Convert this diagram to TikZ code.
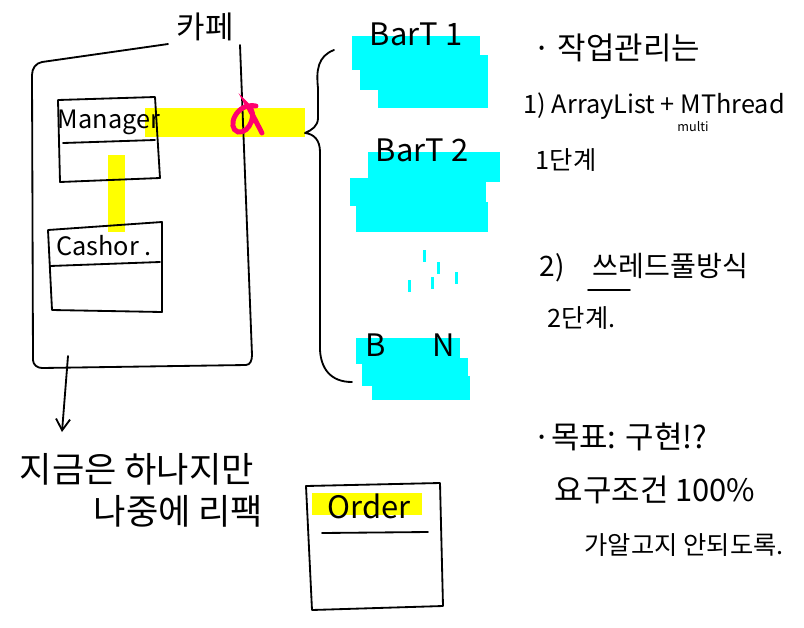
\documentclass[tikz,border=0pt]{standalone}
\usepackage{fontspec}
\setmainfont{Noto Sans CJK KR}
\usepackage{tikz}
\usetikzlibrary{arrows.meta}

\definecolor{marker}{RGB}{255,255,0}
\definecolor{barcyan}{RGB}{0,255,255}
\definecolor{pink}{RGB}{255,0,110}

\tikzset{
  pen/.style={line width=1.3pt, line cap=round, line join=round},
  hand/.style={font=\fontsize{18}{20}\selectfont, inner sep=1pt},
  big/.style={font=\fontsize{22}{24}\selectfont, inner sep=1pt},
  small/.style={font=\fontsize{9}{10}\selectfont, inner sep=1pt},
}

\begin{document}
\begin{tikzpicture}[x=0.025cm, y=-0.025cm]
\useasboundingbox[fill=white] (0,0) rectangle (804,627);

% === CAFE (izquierda) ===
% marcador amarillo
\fill[marker] (145,108) rectangle (305,137);
\fill[marker] (108,155) rectangle (125,232);
% caja grande
\draw[pen] (168,44) -- (42,62) to[out=190,in=90] (32,75) -- (33,360)
  to[out=-90,in=180] (42,368) -- (246,365) to[out=0,in=-90] (252,355) -- (240,45);
\node[big] (cafe) at (205,27) {카페};
% Manager
\draw[pen] (58,100) -- (155,97) -- (160,178) -- (60,182) -- cycle;
\draw[pen] (63,143) -- (155,140);
\node[hand] (mgr) at (109,122) {Manager};
% Cashier
\draw[pen] (48,230) -- (162,222) -- (162,312) -- (52,310) -- cycle;
\draw[pen] (50,266) -- (160,262);
\node[hand] (cashier) at (104,246) {Cashor .};
% simbolo rosa
\draw[pink, line width=3.5pt, line cap=round] (256,106) .. controls (236,102) and (226,128) .. (238,132)
  .. controls (250,134) and (258,112) .. (248,106) -- (262,133);
% flecha hacia abajo
\coordinate (down) at (68,356);
\node[big, anchor=north west] (note1) at (18,452) {\fontsize{25}{28}\selectfont 지금은 하나지만};
\node[big, anchor=north west] (note2) at (92,494) {\fontsize{25}{28}\selectfont 나중에 리팩};
\draw[pen, -{Straight Barb[length=8pt, width=10pt]}] (down) -- (62,432);

% llave
\draw[pen] (334,50) .. controls (318,56) and (316,70) .. (318,88) -- (318,118)
  .. controls (318,126) and (312,130) .. (305,133)
  .. controls (314,134) and (320,140) .. (320,152) -- (320,350)
  .. controls (321,368) and (330,382) .. (352,382);

% === BARTENDERS ===
\foreach \xa/\ya/\xb/\yb in {352/36/480/70, 360/55/488/90, 378/70/488/108,
                              368/152/500/182, 350/178/486/206, 356/202/488/232,
                              356/338/460/364, 362/358/468/386, 372/376/470/400}{
  \fill[barcyan] (\xa,\ya) rectangle (\xb,\yb);
}
\foreach \x/\y in {424/256, 438/268, 456/278, 409/286, 432/283}{
  \fill[barcyan] (\x-1.5,\y-6) rectangle (\x+1.5,\y+6);
}
\node[big] (bar1) at (416,34) {BarT 1};
\node[big] (bar2) at (422,150) {BarT 2};
\node[big] (barn) at (410,345) {B\hspace{1.5em}N};

% === ORDER ===
\fill[marker] (312,493) rectangle (422,515);
\draw[pen] (306,486) -- (440,483) -- (443,606) -- (312,610) -- cycle;
\draw[pen] (322,533) -- (428,532);
\node[big] (order) at (369,506) {Order};

% === NOTAS (derecha) ===
\node[big, anchor=west] (task) at (532,48) {· 작업관리는};
\node[hand, anchor=west] (step1) at (522,106) {1) ArrayList + MThread};
\node[small] (multi) at (693,127) {multi};
\node[hand, anchor=west] (lv1) at (534,160) {1단계};
\node[hand, anchor=west] (step2) at (538,268) {\fontsize{20}{22}\selectfont 2)\hspace{1em}쓰레드풀방식};
\draw[pen] (588,290) -- (630,290);
\node[hand, anchor=west] (lv2) at (546,318) {2단계.};
\node[big, anchor=west] (goal) at (532,437) {·목표: 구현!?};
\node[big, anchor=west] (req) at (553,490) {요구조건 100\%};
\node[hand, anchor=west] (rule) at (583,545) {가알고지 안되도록.};

\end{tikzpicture}
\end{document}
